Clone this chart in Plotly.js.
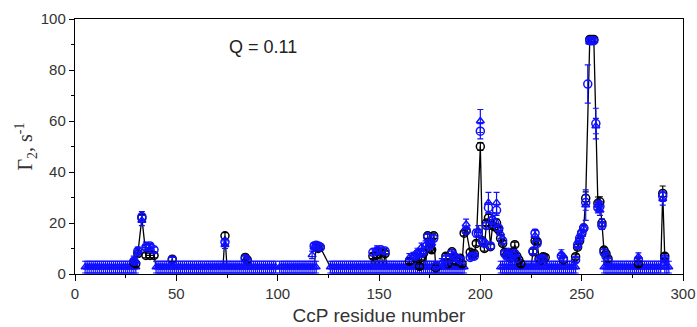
<!DOCTYPE html>
<html><head><meta charset="utf-8">
<script src="https://cdn.plot.ly/plotly-3.0.1.min.js"></script>
<style>html,body{margin:0;padding:0;background:#fff}</style>
</head><body><div id="chart" style="width:697px;height:327px"></div>
<script>
// residues drawn at the baseline (blue triangles)
const baseRes = [
 5,6,7,8,9,10,11,12,13,14,15,16,17,18,19,20,21,22,23,24,25,26,27,28,29,30,
 40,41,42,43,44,45,46,47,48,49,50,51,52,53,54,55,56,57,58,59,60,61,62,63,64,65,66,67,68,69,
 70,71,72,73,74,75,76,77,78,79,80,81,82,83,84,85,86,87,88,89,90,91,92,93,94,95,96,97,98,99,
 101,102,103,104,105,106,107,108,109,110,111,112,113,114,115,116,117,118,119,
 126,127,128,129,130,131,132,133,134,135,136,137,138,139,140,141,142,143,144,145,146,147,148,149,
 150,151,152,153,154,155,156,157,158,159,160,161,162,163,164,165,166,167,168,169,170,171,172,173,
 174,175,176,177,178,179,180,181,182,183,184,185,186,187,188,189,190,191,192,
 210,211,212,213,214,215,216,217,218,219,220,221,222,223,224,225,226,227,228,229,230,231,232,233,
 234,235,236,237,238,239,240,241,242,243,244,245,246,247,
 261,262,263,264,265,266,267,268,269,270,271,272,273,274,275,276,277,278,279,280,281,282,283,284,
 285,286,287,288,289,291,292,293];
const baseVal = 2.7;
const baseErr = 2.3;

// residues with values above the baseline
const elevRes = [
 29,30,31,33,35,37,39,48,74,84,
 85,117,118,119,120,121,147,149,151,153,
 165,167,168,169,170,171,172,173,174,175,
 176,177,178,181,182,183,184,185,186,187,
 188,189,190,191,192,193,195,196,197,198,
 199,200,201,202,203,204,205,206,207,208,
 209,210,211,212,213,214,215,216,217,218,
 219,220,226,227,228,229,230,231,232,240,
 241,247,248,249,250,251,252,253,254,255,
 256,257,258,259,260,261,262,263,278,290,
 291];
const blackVal = [
 4.5,4,8,22,7.3,7.3,7.3,5.8,15,6.5,
 5.5,null,null,10.5,10,10.5,7,7.5,8.5,8,
 5,null,6.5,null,3,6.5,8.2,null,15,10,
 9.5,15,2.4,null,null,7,4,null,8.7,6.8,
 5,null,6.2,4,16,17,8.5,7.3,8,12,
 null,50,13,10,20,22,10.7,19,18.5,20,
 17.3,14,12,8.5,7.5,8,7,8.5,11.5,7,
 5.5,4,8.7,13,12.7,6,5.5,6.8,6.5,null,
 5.5,6.8,10.5,13,16,18,29.7,null,92,92,
 92,null,27.7,28.3,20,9.4,8,6,4,31.6,
 7];
const blackErr = [
 1,1,1,1.5,1,1,1,1,1.2,1,
 1,0,0,1,1,1,1,1,1,1,
 1,0,1,0,1,1,1,0,1,1,
 1,1,1,0,0,1,1,0,1,1,
 1,0,1,1,1,1,1,1,1,1,
 0,1.5,1,1,1,1.5,1,1,1,1.5,
 1,1,1,1,1,1,1,1,1,1,
 1,1,1,1,1,1,1,1,1,0,
 1,1,1,1,1,1,2.5,0,1,1,
 1,0,2.5,2,1.5,1,1,1,1,2.9,
 1];
const blueVal = [
 5,null,9,22.5,10.5,11,9.5,5.5,12.5,6,
 5,null,11,11.3,11,10.5,8.5,9,9.5,9,
 null,null,7,8,null,8,9,null,14.5,11,
 null,14,3,null,null,6,null,6,8,7,
 null,6,5.5,null,null,17,6.5,7,7,16,
 16,56,12.7,12,19,26,11,21,20,25,
 18,null,13,8,7,null,6,7.5,8,6,
 null,null,9,16,12,5.5,6,6,null,7,
 6,5.5,11.4,14,16,18,28,74.5,91.5,91.5,
 91.5,59,26,26.5,19,8.5,7,5,5.5,30.5,
 6];
const blueErr = [
 1,0,1,2,1,1,1,1,1,1,
 1,0,1,1,1,1,1,1,1,1,
 0,0,1,1,0,1,1,0,1,1,
 0,1,1,0,0,1,0,1,1,1,
 0,1,1,0,0,1,1,1,1,1.5,
 1.5,3,1,1,1,2,1,1.5,1.5,2,
 1,0,1,1,1,0,1,1,1,1,
 0,0,1,1.5,1,1,1,1,0,1,
 1,1,1,1,1,1,3,7.5,1,1,
 1,6,2,2,1.5,1,1,1,1,2,
 1];
const triVal = [
 5.5,5,9,21,11,10,null,null,11.5,null,
 null,7.5,10.5,null,null,null,null,9.5,null,null,
 6.5,7,null,8.6,null,10.6,null,11.5,null,null,
 12,null,null,4.5,3.5,null,null,null,null,null,
 null,null,null,null,null,19.5,null,null,null,null,
 17,60,null,null,null,28,null,22,null,28,
 null,16,null,null,null,8.6,null,null,null,null,
 null,null,null,15,null,null,null,null,null,8,
 null,null,11.4,14,15.5,18,27,null,91,null,
 null,58,27,25,19.5,null,null,null,6.8,29.5,
 5];
const triErr = [
 1.5,1.5,1.5,2,1.5,1.5,0,0,1.5,0,
 0,1.5,1.5,0,0,0,0,1.5,0,0,
 1.5,1.5,0,1.5,0,1.5,0,1.5,0,0,
 1.5,0,0,1.5,1.5,0,0,0,0,0,
 0,0,0,0,0,2,0,0,0,0,
 2,4.5,0,0,0,4,0,2,0,4,
 0,2,0,0,0,1.5,0,0,0,0,
 0,0,0,2,0,0,0,0,0,1.5,
 0,0,1.5,1.5,1.5,1.5,6,0,1,0,
 0,3,2,2,2,0,0,0,1.5,2.5,
 1.5];

const xTicks = [0,50,100,150,200,250,300];
const yTicks = [0,20,40,60,80,100];
const annotationText = 'Q = 0.11';

// black connecting line: measured black values, else baseline
const lineMap = new Map();
baseRes.forEach(r => lineMap.set(r, baseVal));
elevRes.forEach((r,i) => { if (blackVal[i] !== null) lineMap.set(r, blackVal[i]); });
const lineX = [...lineMap.keys()].sort((a,b)=>a-b);
const lineY = lineX.map(r => lineMap.get(r));

const BLUE = '#1010ff';
const traces = [
 {x: lineX, y: lineY, mode: 'lines', line: {color: '#000', width: 1.3}, hoverinfo: 'skip'},
 {x: baseRes, y: baseRes.map(()=>baseVal), mode: 'markers',
  marker: {symbol: 'triangle-up-open', size: 7, color: BLUE, line: {width: 1.5}},
  error_y: {type: 'constant', value: baseErr, color: BLUE, thickness: 1.2, width: 3}},
 {x: elevRes, y: blackVal, mode: 'markers',
  marker: {symbol: 'circle-open', size: 8, color: '#000', line: {width: 1.5}},
  error_y: {type: 'data', array: blackErr, color: '#000', thickness: 1.2, width: 3}},
 {x: elevRes, y: blueVal, mode: 'markers',
  marker: {symbol: 'circle-open', size: 8, color: BLUE, line: {width: 1.5}},
  error_y: {type: 'data', array: blueErr, color: BLUE, thickness: 1.2, width: 3}},
 {x: elevRes, y: triVal, mode: 'markers',
  marker: {symbol: 'triangle-up-open', size: 7, color: BLUE, line: {width: 1.4}},
  error_y: {type: 'data', array: triErr, color: BLUE, thickness: 1.2, width: 3}}
];

const axisFont = {family: 'Liberation Sans, Arial, sans-serif', size: 15, color: '#333'};
const layout = {
 width: 697, height: 327,
 margin: {l: 75, r: 14, t: 19, b: 53},
 paper_bgcolor: '#fff', plot_bgcolor: '#fff',
 showlegend: false,
 xaxis: {range: [0, 300], tickvals: xTicks, ticktext: xTicks.map(String),
  ticks: 'outside', ticklen: 6, tickcolor: '#000', tickwidth: 1,
  minor: {dtick: 25, ticks: 'outside', ticklen: 3, tickcolor: '#000'},
  showline: true, linecolor: '#000', linewidth: 1.2, mirror: true,
  showgrid: false, zeroline: false, tickfont: axisFont,
  title: {text: 'CcP residue number', font: {family: 'Liberation Sans, Arial, sans-serif', size: 19, color: '#333'}, standoff: 7}},
 yaxis: {range: [0, 100], tickvals: yTicks, ticktext: yTicks.map(String),
  ticks: 'outside', ticklen: 5, tickcolor: '#000', tickwidth: 1,
  minor: {dtick: 10, ticks: 'outside', ticklen: 3, tickcolor: '#000'},
  showline: true, linecolor: '#000', linewidth: 1.2, mirror: true,
  showgrid: false, zeroline: false, tickfont: axisFont,
  title: {text: 'Γ<sub>2</sub>, s<sup>-1</sup>', font: {family: 'Liberation Serif, Times New Roman, serif', size: 20, color: '#333'}, standoff: 2}},
 annotations: [{x: 93, y: 89, xref: 'x', yref: 'y', text: annotationText, showarrow: false,
  font: {family: 'Liberation Sans, Arial, sans-serif', size: 18, color: '#222'}}]
};
Plotly.newPlot('chart', traces, layout, {displayModeBar: false, staticPlot: true});
</script></body></html>
